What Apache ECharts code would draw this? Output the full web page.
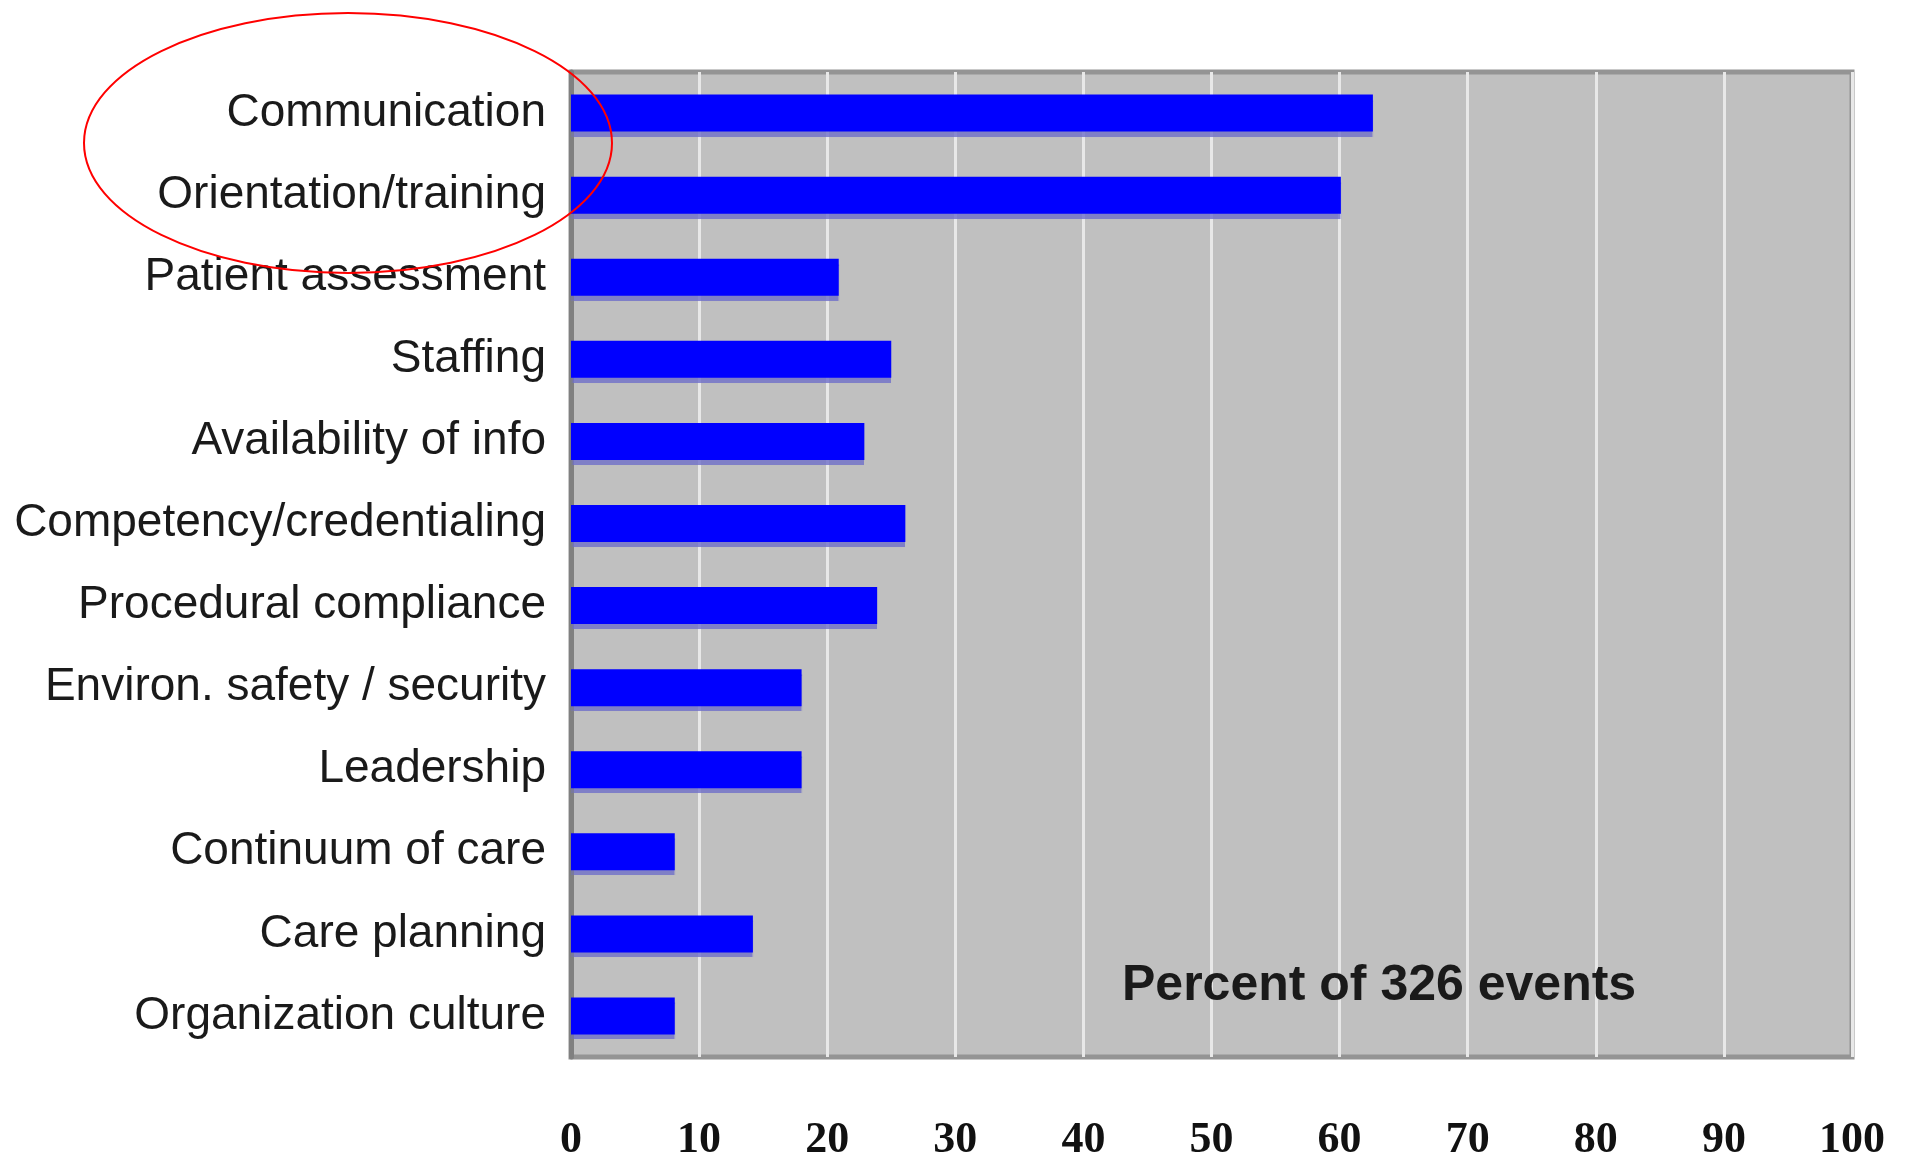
<!DOCTYPE html>
<html>
<head>
<meta charset="utf-8">
<script src="https://cdn.jsdelivr.net/npm/echarts@6/dist/echarts.min.js"></script>
<style>
html,body{margin:0;padding:0;background:#fff;}
#chart{width:1915px;height:1163px;}
</style>
</head>
<body>
<div id="chart"></div>
<script>
const categories = [
  'Communication',
  'Orientation/training',
  'Patient assessment',
  'Staffing',
  'Availability of info',
  'Competency/credentialing',
  'Procedural compliance',
  'Environ. safety / security',
  'Leadership',
  'Continuum of care',
  'Care planning',
  'Organization culture'
];
const percentValues = [62.6, 60.1, 20.9, 25.0, 22.9, 26.1, 23.9, 18.0, 18.0, 8.1, 14.2, 8.1];
const axisNote = 'Percent of 326 events';

const chart = echarts.init(document.getElementById('chart'));
chart.setOption({
  animation: false,
  backgroundColor: '#ffffff',
  grid: {
    left: 571, right: 63, top: 72, bottom: 106,
    show: true,
    backgroundColor: '#c0c0c0',
    borderColor: '#949494',
    borderWidth: 5
  },
  xAxis: {
    type: 'value',
    min: 0, max: 100, interval: 10,
    axisLine: { show: false },
    axisTick: { show: false },
    splitLine: { show: true, lineStyle: { color: '#e8e8e8', width: 3 } },
    axisLabel: {
      margin: 62,
      color: '#111',
      fontFamily: 'Liberation Serif',
      fontWeight: 'bold',
      fontSize: 44
    }
  },
  yAxis: {
    type: 'category',
    data: categories,
    inverse: true,
    axisLine: { show: true, lineStyle: { color: '#808080', width: 5 } },
    axisTick: { show: false },
    splitLine: { show: false },
    axisLabel: {
      margin: 25,
      color: '#1a1a1a',
      fontFamily: 'Liberation Sans',
      fontSize: 46,
      padding: [8, 0, 0, 0]
    }
  },
  series: [{
    type: 'bar',
    data: percentValues,
    barWidth: 37,
    itemStyle: {
      color: '#0000ff',
      shadowColor: 'rgba(110,110,200,0.8)',
      shadowOffsetY: 5,
      shadowBlur: 1
    }
  }],
  graphic: [
    {
      type: 'text',
      left: 1122,
      top: 961,
      z: 100,
      style: {
        text: axisNote,
        fill: '#1a1a1a',
        font: 'bold 50px "Liberation Sans"'
      }
    },
    {
      type: 'ellipse',
      shape: { cx: 348, cy: 143, rx: 264, ry: 130 },
      style: { fill: 'none', stroke: '#ff0000', lineWidth: 2 },
      z: 100
    }
  ]
});
</script>
</body>
</html>
